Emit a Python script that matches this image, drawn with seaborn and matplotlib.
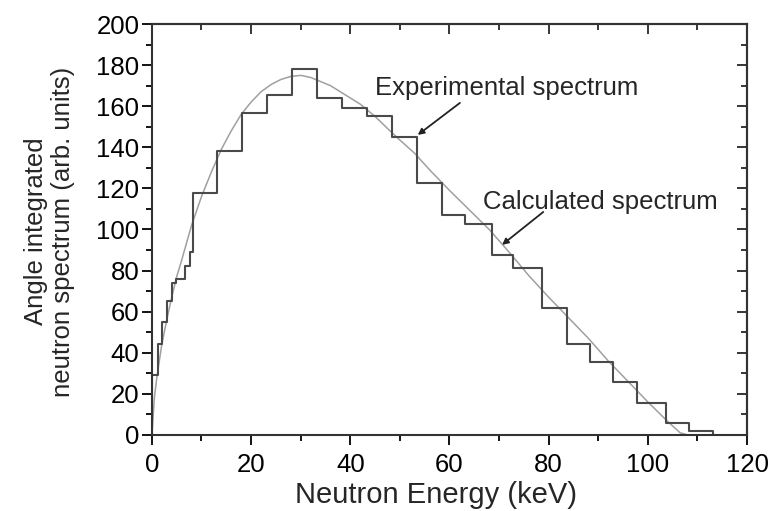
import numpy as np
import pandas as pd
import seaborn as sns
import matplotlib
matplotlib.use('Agg')
import matplotlib.pyplot as plt
from matplotlib.ticker import MultipleLocator

# experimental spectrum: bin edges (keV) and heights (arb. units)
exp_edges = [0, 1.3, 2.1, 3.0, 4.0, 4.8, 6.7, 7.6, 8.2, 13.1, 18.2, 23.2, 28.2,
             33.3, 38.4, 43.4, 48.4, 53.5, 58.5, 63.1, 68.6, 72.8, 78.7, 83.7,
             88.3, 92.9, 97.8, 103.7, 108.2, 113.1]
exp_counts = [29, 44, 55, 65, 74, 76, 82, 89, 117.6, 138, 156.5, 165.4, 178,
              163.8, 159, 155, 145.2, 122.5, 106.8, 102.5, 87.5, 81, 61.6, 44.3,
              35.7, 25.5, 15.7, 5.7, 2]

# calculated spectrum
calc_energy = [0, 0.5, 1, 2, 3, 4, 5, 6, 8, 10, 12, 14, 16, 18, 20, 22, 24, 26,
               28, 30, 32, 34, 36, 38, 40, 42, 45, 48, 50, 53, 56, 58, 60, 64,
               68, 72, 76, 80, 84, 88, 92, 96, 100, 104, 106.5, 108]
calc_counts = [0, 18, 28, 44, 56, 67, 77, 85, 102, 116, 128, 139, 148, 156, 162,
               167, 170.5, 173, 174.5, 175, 174, 172, 170, 167, 164, 161, 155,
               148, 143.5, 137, 129, 124, 119, 109.5, 100, 89, 77.5, 67, 57, 47,
               36, 26, 16, 6.5, 1, 0]

exp_df = pd.DataFrame({
    'energy': [0] + exp_edges,
    'counts': [0] + exp_counts + [0],
})
calc_df = pd.DataFrame({'energy': calc_energy, 'counts': calc_counts})

sns.set_theme(style="white")
plt.rcParams['font.family'] = ['Liberation Sans', 'DejaVu Sans']

fig = plt.figure(figsize=(7.71, 5.11), dpi=100)
ax = fig.add_axes([0.197, 0.149, 0.772, 0.804])

sns.lineplot(data=calc_df, x='energy', y='counts', color='#a0a0a0', lw=1.1,
             sort=False, estimator=None, ax=ax)
sns.lineplot(data=exp_df, x='energy', y='counts', color='#4a4a4a', lw=1.5,
             drawstyle='steps-post', sort=False, estimator=None, ax=ax)

ax.set_xlim(0, 120)
ax.set_ylim(0, 200)
ax.xaxis.set_major_locator(MultipleLocator(20))
ax.xaxis.set_minor_locator(MultipleLocator(10))
ax.yaxis.set_major_locator(MultipleLocator(20))
ax.yaxis.set_minor_locator(MultipleLocator(10))
ax.tick_params(which='both', direction='out', colors='black', width=1.3,
               labelsize=18.5, bottom=True, left=True, pad=2)
ax.tick_params(axis='x', pad=6)
ax.tick_params(which='major', length=7)
ax.tick_params(which='minor', length=4)
for s in ax.spines.values():
    s.set_color('#333333')
    s.set_linewidth(1.5)

# mirrored ticks on top and right, pointing inward
top = ax.secondary_xaxis('top')
top.xaxis.set_major_locator(MultipleLocator(20))
top.xaxis.set_minor_locator(MultipleLocator(10))
top.tick_params(which='both', direction='in', labeltop=False, width=1.3)
top.tick_params(which='major', length=7)
top.tick_params(which='minor', length=4)
right = ax.secondary_yaxis('right')
right.yaxis.set_major_locator(MultipleLocator(20))
right.yaxis.set_minor_locator(MultipleLocator(10))
right.tick_params(which='both', direction='in', labelright=False, width=1.3)
right.tick_params(which='major', length=7)
right.tick_params(which='minor', length=4)
for sec in (top, right):
    for s in sec.spines.values():
        s.set_linewidth(1.5)
        s.set_color('#333333')

ax.set_xlabel('Neutron Energy (keV)', fontsize=21)
ax.xaxis.set_label_coords(0.477, -0.112)
ax.set_ylabel('Angle integrated\nneutron spectrum (arb. units)', fontsize=18.5,
              linespacing=1.15)
ax.yaxis.set_label_coords(-0.13, 0.495)

ax.text(45, 169, 'Experimental spectrum', fontsize=18.5, va='center', ha='left')
ax.annotate('', xy=(53.6, 146), xytext=(62.1, 161.6),
            arrowprops=dict(arrowstyle='-|>', color='#222222', lw=1.3,
                            mutation_scale=9, shrinkA=0, shrinkB=0))
ax.text(66.8, 113.5, 'Calculated spectrum', fontsize=18.5, va='center', ha='left')
ax.annotate('', xy=(70.6, 92.5), xytext=(78.9, 108.5),
            arrowprops=dict(arrowstyle='-|>', color='#222222', lw=1.3,
                            mutation_scale=9, shrinkA=0, shrinkB=0))

fig.savefig('out.png', dpi=100)
